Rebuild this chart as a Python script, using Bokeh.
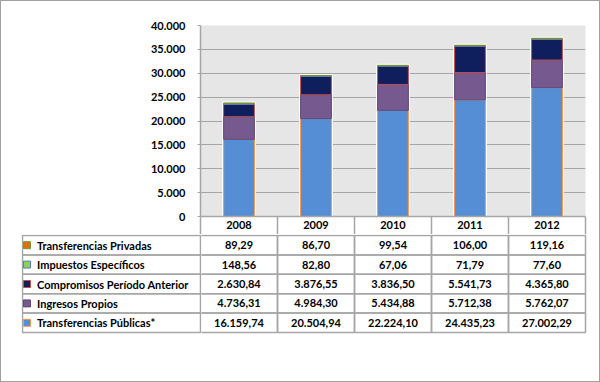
from bokeh.plotting import figure
from bokeh.layouts import column, row
from bokeh.models import ColumnDataSource, FixedTicker, Range1d
from bokeh.core.properties import value
from bokeh.embed import file_html
from bokeh.resources import INLINE

# ---- data ----
years = [2008, 2009, 2010, 2011, 2012]
publicas = [16159.74, 20504.94, 22224.10, 24435.23, 27002.29]
propios = [4736.31, 4984.30, 5434.88, 5712.38, 5762.07]
compromisos = [2630.84, 3876.55, 3836.50, 5541.73, 4365.80]
especificos = [148.56, 82.80, 67.06, 71.79, 77.60]
privadas = [89.29, 86.70, 99.54, 106.00, 119.16]
series_names = ["Transferencias Públicas*", "Ingresos Propios",
                "Compromisos Período Anterior", "Impuestos Específicos",
                "Transferencias Privadas"]
y_ticks = [0, 5000, 10000, 15000, 20000, 25000, 30000, 35000, 40000]

series = [publicas, propios, compromisos, especificos, privadas]
fills = ["#558ED5", "#75598F", "#0F1F5E", "#92D050", "#E46C0A"]
edges = ["#F79646", "#5F497A", "#C0504D", "#4F81BD", "#77933C"]

FONT_NAME = "Lato"
FONT = value(FONT_NAME)
GRID = "#A6A6A6"
W = 600
COL_PX = 77.0
LABEL_PX = 178.0
ROW_PX = 19.4

def es_num(v, dec=2):
    s = f"{v:,.{dec}f}"
    return s.replace(",", "X").replace(".", ",").replace("X", ".")

# ---- top chart ----
x0, x1 = years[0] - 0.5, years[-1] + 0.5
p = figure(width=W, height=234, output_backend="svg", toolbar_location=None,
           x_range=Range1d(x0, x1), y_range=Range1d(0, 40000),
           min_border_left=200, min_border_right=15, min_border_top=25,
           min_border_bottom=18)
p.background_fill_color = "#E6E6E6"
p.border_fill_color = None
p.outline_line_color = None
p.xgrid.visible = False
p.ygrid.grid_line_color = GRID
p.ygrid.ticker = FixedTicker(ticks=y_ticks)

bottoms = [0.0] * len(years)
totals = [sum(s[i] for s in series) for i in range(len(years))]
p.vbar(x=years, width=0.4, bottom=0, top=totals, fill_color="white",
       line_color="white", line_width=3)
for vals, fc, ec in zip(series, fills, edges):
    tops = [b + v for b, v in zip(bottoms, vals)]
    p.vbar(x=years, width=0.4, bottom=bottoms, top=tops, fill_color=fc,
           line_color=ec, line_width=1)
    bottoms = tops

yax = p.yaxis[0]
yax.ticker = FixedTicker(ticks=y_ticks)
yax.major_label_overrides = {t: es_num(t, 0) for t in y_ticks}
yax.axis_line_color = GRID
yax.axis_line_width = 1.5
yax.major_tick_line_color = GRID
yax.major_tick_out = 3
yax.major_tick_in = 0
yax.minor_tick_line_color = None
yax.major_label_standoff = 12
yax.major_label_text_font = FONT_NAME
yax.major_label_text_font_style = "bold"
yax.major_label_text_font_size = "11px"
yax.major_label_text_color = "black"

xax = p.xaxis[0]
xax.ticker = FixedTicker(ticks=years, minor_ticks=[y - 0.5 for y in years] + [years[-1] + 0.5])
xax.axis_line_color = GRID
xax.axis_line_width = 1.5
xax.major_tick_line_color = None
xax.major_tick_out = 0
xax.major_tick_in = 0
xax.minor_tick_line_color = GRID
xax.minor_tick_line_width = 1.5
xax.minor_tick_out = 19
xax.minor_tick_in = 0
xax.major_label_standoff = -15
xax.major_label_text_font = FONT_NAME
xax.major_label_text_font_style = "bold"
xax.major_label_text_font_size = "11px"
xax.major_label_text_color = "black"

# ---- data table ----
n = len(series)
TH = 148
frame_h = 100
y_end = n + 1 / ROW_PX
y_start = y_end - frame_h / ROW_PX

# label column (own figure, screen-like units from table's left edge)
lab_fig = figure(width=201, height=TH, output_backend="svg", toolbar_location=None,
                 x_range=Range1d(-1, LABEL_PX + 1), y_range=Range1d(y_start, y_end),
                 min_border_left=21, min_border_right=0, min_border_top=0,
                 min_border_bottom=TH - frame_h)
lab_fig.axis.visible = False
lab_fig.grid.visible = False
lab_fig.outline_line_color = None
lab_fig.border_fill_color = None
lab_fig.background_fill_color = None
rows = list(range(n))
lab = ColumnDataSource(dict(
    l=[0] * n, r=[LABEL_PX] * n, b=rows, t=[r + 1 for r in rows],
    y=[r + 0.5 for r in rows], name=series_names,
    kx=[4.5] * n, tx=[14.5] * n, fc=fills, ec=edges))
lab_fig.quad(left="l", right="r", bottom="b", top="t", source=lab,
             fill_color=None, line_color=GRID, line_width=1.5)
lab_fig.scatter(x="kx", y="y", source=lab, marker="square", size=7,
                fill_color="fc", line_color="ec", line_width=1)
lab_fig.text(x="tx", y="y", text="name", source=lab, text_align="left",
             text_baseline="middle", text_font=FONT, text_font_style="bold",
             text_font_size="11px", text_color="black")

# value cells
tw = W - 201
t_frame_w = 386
tx_start = x0 + 1 / COL_PX
tx_end = tx_start + t_frame_w / COL_PX
t = figure(width=tw, height=TH, output_backend="svg", toolbar_location=None,
           x_range=Range1d(tx_start, tx_end), y_range=Range1d(y_start, y_end),
           min_border_left=0, min_border_right=tw - t_frame_w, min_border_top=0,
           min_border_bottom=TH - frame_h)
t.axis.visible = False
t.grid.visible = False
t.outline_line_color = None
t.border_fill_color = None
t.background_fill_color = None

cl, cr, cb, ct, ctext, cx, cy = [], [], [], [], [], [], []
for r, vals in enumerate(series):
    for yr, v in zip(years, vals):
        cl.append(yr - 0.5); cr.append(yr + 0.5)
        cb.append(r); ct.append(r + 1)
        ctext.append(es_num(v)); cx.append(yr); cy.append(r + 0.5)
cells = ColumnDataSource(dict(l=cl, r=cr, b=cb, t=ct, txt=ctext, x=cx, y=cy))
t.quad(left="l", right="r", bottom="b", top="t", source=cells,
       fill_color=None, line_color=GRID, line_width=1.5)
t.text(x="x", y="y", text="txt", source=cells, text_align="center",
       text_baseline="middle", text_font=FONT, text_font_style="bold",
       text_font_size="11px", text_color="black")

layout = column(p, row(lab_fig, t, spacing=0), spacing=0,
                styles={"outline": "1px solid #A0A0A0", "outline-offset": "-1px",
                        "background-color": "white"})
open("out.html", "w").write(file_html(layout, INLINE))
